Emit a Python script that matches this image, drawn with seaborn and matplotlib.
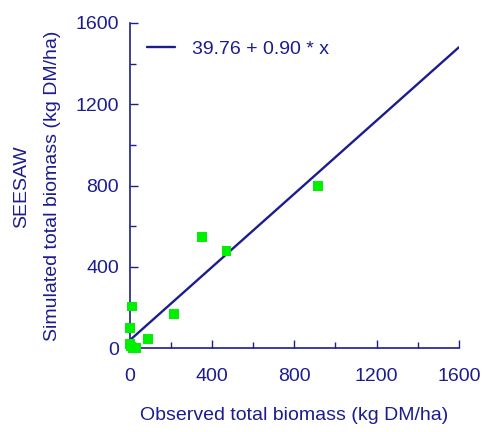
import matplotlib
matplotlib.use("Agg")
import matplotlib.pyplot as plt
import seaborn as sns
import pandas as pd

# observed vs simulated total biomass (kg DM/ha)
observed = [915, 470, 350, 214, 88, 10, 0, 0, 12, 28, 5]
simulated = [797, 478, 546, 167, 44, 205, 100, 20, 0, 0, 8]

# fitted line 39.76 + 0.90 * x, end points
fit_x = [0, 1600]
fit_y = [39.76, 1479.76]
fit_label = "39.76 + 0.90 * x"

ticks = [0, 400, 800, 1200, 1600]

navy = "#1c1c8f"
green = "#00f000"

sns.set_theme(style="ticks")
plt.rcParams['font.family'] = ['Liberation Sans', 'DejaVu Sans']

df = pd.DataFrame({'obs': observed, 'sim': simulated})
line_df = pd.DataFrame({'x': fit_x, 'y': fit_y})

fig = plt.figure(figsize=(4.85, 4.32), dpi=100)
ax = fig.add_axes([0.268, 0.194, 0.678, 0.753])

sns.lineplot(data=line_df, x='x', y='y', color=navy, linewidth=1.7,
             label=fit_label, ax=ax)
sns.scatterplot(data=df, x='obs', y='sim', marker='s', s=50, color=green,
                edgecolor='none', ax=ax, zorder=3, clip_on=False)

ax.set_xlim(0, 1600)
ax.set_ylim(0, 1600)
ax.set_xticks(ticks)
ax.set_yticks(ticks)
ax.set_xticks(range(200, 1600, 400), minor=True)
ax.set_yticks(range(200, 1600, 400), minor=True)

sns.despine(ax=ax)
for side in ['left', 'bottom']:
    ax.spines[side].set_color(navy)
    ax.spines[side].set_linewidth(1.2)

ax.tick_params(axis='both', which='major', direction='in', length=6,
               width=1.0, color=navy, labelcolor=navy, labelsize=14)
ax.tick_params(axis='both', which='minor', direction='in', length=4,
               width=1.0, color=navy)
ax.tick_params(axis='x', which='major', pad=14)
ax.tick_params(axis='y', which='major', pad=8)

ax.set_xlabel("Observed total biomass (kg DM/ha)", color=navy, fontsize=14,
              labelpad=16)
ax.set_ylabel("Simulated total biomass (kg DM/ha)", color=navy,
              fontsize=14, labelpad=10)
# model name as a separate first line of the y title
fig.text(22 / 485, 1 - 187 / 432, "SEESAW", rotation=90, color=navy,
         fontsize=14, ha='center', va='center')

leg = ax.legend(loc='upper left', frameon=False, fontsize=14,
                handlelength=1.4, handletextpad=0.9, borderaxespad=0.5)
for t in leg.get_texts():
    t.set_color(navy)

fig.savefig("out.png", dpi=100)
